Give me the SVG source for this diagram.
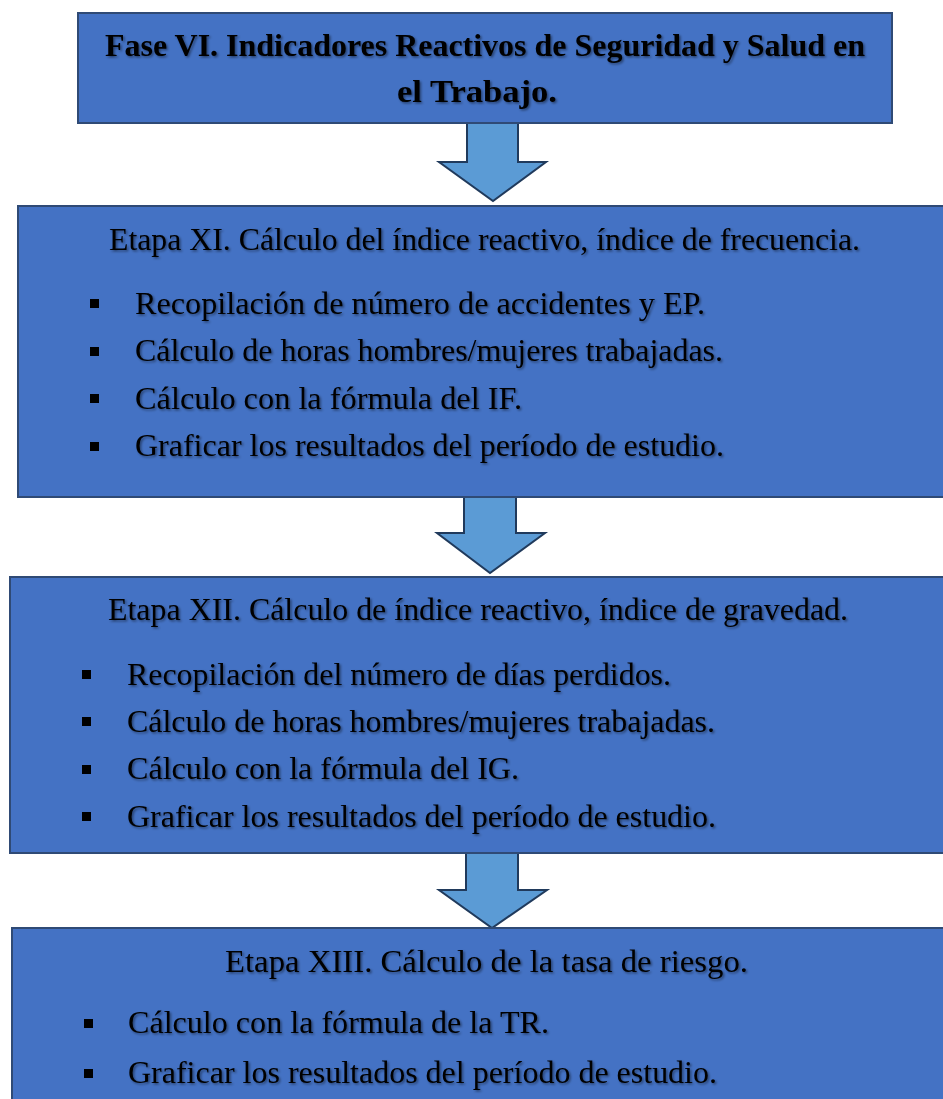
<svg xmlns="http://www.w3.org/2000/svg" width="943" height="1099" viewBox="0 0 943 1099">
<defs>
<filter id="sh" x="-5%" y="-20%" width="110%" height="150%">
<feDropShadow dx="1.5" dy="1.5" stdDeviation="1" flood-color="#000" flood-opacity="0.45"/>
</filter>
<style>
.box{fill:#4472C4;stroke:#2F4A75;stroke-width:2}
.arr{fill:#5B9BD5;stroke:#203A5C;stroke-width:2;stroke-linejoin:miter}
.t{font-family:"Liberation Serif","Times New Roman",serif;fill:#000;filter:url(#sh)}
.title{font-size:31px;font-weight:bold}
.h{font-size:32px}
.b{font-size:32px}
.sq{fill:#000}
</style>
</defs>
<rect width="943" height="1099" fill="#fff"/>
<g id="connectors">
<polygon class="arr" points="467,122 518,122 518,162 546,162 493,201 439,162 467,162"/>
<polygon class="arr" points="464,495 516,495 516,533 545,533 490,573 437,533 464,533"/>
<polygon class="arr" points="466,851 518,851 518,890 547,890 492,928 439,890 466,890"/>
</g>
<g id="fase6">
<rect class="box" x="78" y="13" width="814" height="110"/>
<text class="t title" x="105" y="56" textLength="760" lengthAdjust="spacingAndGlyphs">Fase VI. Indicadores Reactivos de Seguridad y Salud en</text>
<text class="t title" x="397" y="102" textLength="160" lengthAdjust="spacingAndGlyphs">el Trabajo.</text>
</g>
<g id="etapa11">
<rect class="box" x="18" y="206" width="930" height="291"/>
<text class="t h" x="109" y="250" textLength="751" lengthAdjust="spacingAndGlyphs">Etapa XI. Cálculo del índice reactivo, índice de frecuencia.</text>
<rect class="sq" x="90" y="299" width="9" height="9"/>
<text class="t b" x="135" y="314" textLength="570" lengthAdjust="spacingAndGlyphs">Recopilación de número de accidentes y EP.</text>
<rect class="sq" x="90" y="347" width="9" height="9"/>
<text class="t b" x="135" y="361" textLength="588" lengthAdjust="spacingAndGlyphs">Cálculo de horas hombres/mujeres trabajadas.</text>
<rect class="sq" x="90" y="394" width="9" height="9"/>
<text class="t b" x="135" y="409" textLength="387" lengthAdjust="spacingAndGlyphs">Cálculo con la fórmula del IF.</text>
<rect class="sq" x="90" y="442" width="9" height="9"/>
<text class="t b" x="135" y="456" textLength="589" lengthAdjust="spacingAndGlyphs">Graficar los resultados del período de estudio.</text>
</g>
<g id="etapa12">
<rect class="box" x="10" y="577" width="940" height="276"/>
<text class="t h" x="108" y="620" textLength="740" lengthAdjust="spacingAndGlyphs">Etapa XII. Cálculo de índice reactivo, índice de gravedad.</text>
<rect class="sq" x="82" y="670" width="9" height="9"/>
<text class="t b" x="127" y="685" textLength="544" lengthAdjust="spacingAndGlyphs">Recopilación del número de días perdidos.</text>
<rect class="sq" x="82" y="717" width="9" height="9"/>
<text class="t b" x="127" y="732" textLength="588" lengthAdjust="spacingAndGlyphs">Cálculo de horas hombres/mujeres trabajadas.</text>
<rect class="sq" x="82" y="765" width="9" height="9"/>
<text class="t b" x="127" y="779" textLength="392" lengthAdjust="spacingAndGlyphs">Cálculo con la fórmula del IG.</text>
<rect class="sq" x="82" y="812" width="9" height="9"/>
<text class="t b" x="127" y="827" textLength="589" lengthAdjust="spacingAndGlyphs">Graficar los resultados del período de estudio.</text>
</g>
<g id="etapa13">
<rect class="box" x="12" y="928" width="940" height="200"/>
<text class="t h" x="225" y="972" textLength="523" lengthAdjust="spacingAndGlyphs">Etapa XIII. Cálculo de la tasa de riesgo.</text>
<rect class="sq" x="84" y="1019" width="9" height="9"/>
<text class="t b" x="128" y="1033" textLength="421" lengthAdjust="spacingAndGlyphs">Cálculo con la fórmula de la TR.</text>
<rect class="sq" x="84" y="1069" width="9" height="9"/>
<text class="t b" x="128" y="1083" textLength="589" lengthAdjust="spacingAndGlyphs">Graficar los resultados del período de estudio.</text>
</g>
</svg>
